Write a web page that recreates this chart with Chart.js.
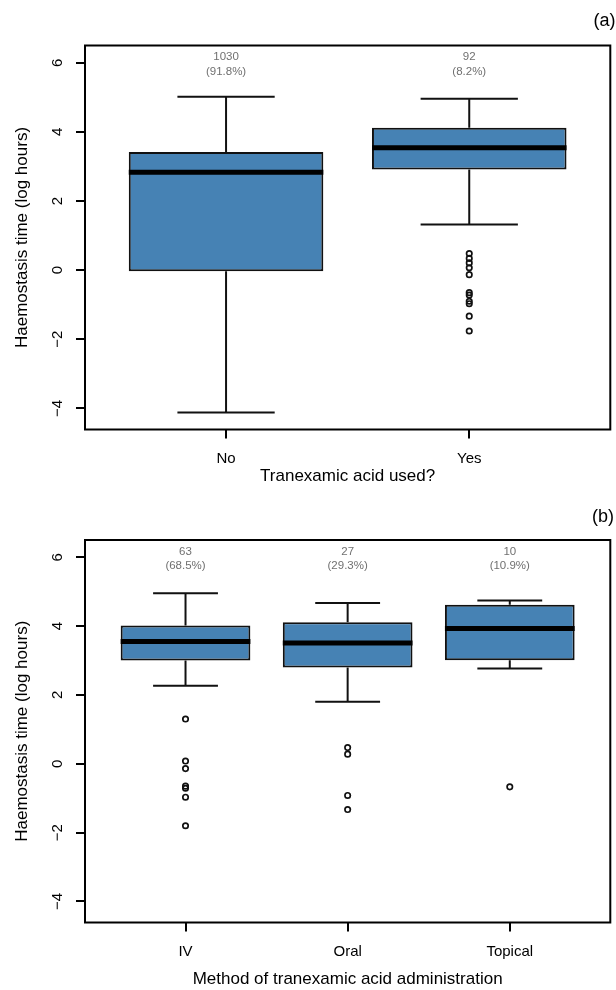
<!DOCTYPE html>
<html>
<head>
<meta charset="utf-8">
<script src="https://cdn.jsdelivr.net/npm/chart.js@4.4.1/dist/chart.umd.min.js"></script>
<style>
  body { margin: 0; background: #fff; }
  canvas { display: block; }
</style>
</head>
<body>
<canvas id="chart-a" width="616" height="495"></canvas>
<canvas id="chart-b" width="616" height="495"></canvas>
<script>
'use strict';

// ***** DATA : panel (a) *****
const catsA = ['No', 'Yes'];
const countsA = [1030, 92];
const pctA = ['91.8%', '8.2%'];
const loA = [-4.12, 1.32];
const q1A = [-0.03, 2.91];
const medA = [2.83, 3.54];
const q3A = [3.42, 4.12];
const hiA = [5.02, 4.96];
const outA = [[], [0.48, 0.34, 0.21, 0.07, -0.13, -0.65, -0.72, -0.90, -0.97, -1.33, -1.76]];

// ***** DATA : panel (b) *****
const catsB = ['IV', 'Oral', 'Topical'];
const countsB = [63, 27, 10];
const pctB = ['68.5%', '29.3%', '10.9%'];
const loB = [2.27, 1.80, 2.77];
const q1B = [3.00, 2.80, 3.01];
const medB = [3.55, 3.51, 3.93];
const q3B = [4.02, 4.11, 4.62];
const hiB = [4.95, 4.67, 4.74];
const outB = [[1.30, 0.08, -0.14, -0.65, -0.71, -0.97, -1.80], [0.47, 0.28, -0.92, -1.33], [-0.67]];

// ***** AXES *****
const yTicks = [-4, -2, 0, 2, 4, 6];
const yMin = -4.61;
const yMax = 6.5;
const yTitle = 'Haemostasis time (log hours)';

// ***** STYLE *****
const boxWidth = 0.8;
const boxColor = '#4682b4';
const lineW = 2;
const fontFamily = '"Liberation Sans", Arial, Helvetica, sans-serif';

Chart.defaults.font.family = fontFamily;
Chart.defaults.color = '#000';

// box frame round the plot area
const framePlugin = {
    id: 'frame',
    afterDatasetsDraw(chart) {
        const {ctx, chartArea: a} = chart;
        ctx.save();
        ctx.strokeStyle = '#000';
        ctx.lineWidth = lineW;
        ctx.strokeRect(a.left, a.top, a.right - a.left, a.bottom - a.top);
        ctx.restore();
    }
};

// n and % above each box
const countPlugin = {
    id: 'countLabels',
    afterDatasetsDraw(chart, args, opts) {
        const {ctx, scales: {x, y}} = chart;
        ctx.save();
        ctx.fillStyle = '#707070';
        ctx.font = '11.5px ' + fontFamily;
        ctx.textAlign = 'center';
        ctx.textBaseline = 'middle';
        opts.counts.forEach((n, i) => {
            const px = x.getPixelForValue(i + 1);
            ctx.fillText(String(n), px, y.getPixelForValue(6.17));
            ctx.fillText('(' + opts.pct[i] + ')', px, y.getPixelForValue(5.75));
        });
        ctx.restore();
    }
};

function whiskerPoints(cats, lo, q1, q3, hi) {
    let pts = [];
    let cap = boxWidth / 4;
    for (let i = 0; i < cats.length; i++) {
        let x = i + 1;
        pts.push({x: x, y: q3[i]}, {x: x, y: hi[i]}, {x: x, y: null});
        pts.push({x: x, y: q1[i]}, {x: x, y: lo[i]}, {x: x, y: null});
        pts.push({x: x - cap, y: hi[i]}, {x: x + cap, y: hi[i]}, {x: x, y: null});
        pts.push({x: x - cap, y: lo[i]}, {x: x + cap, y: lo[i]}, {x: x, y: null});
    }
    return pts;
}

function medianPoints(cats, med) {
    let pts = [];
    for (let i = 0; i < cats.length; i++) {
        pts.push({x: i + 1 - boxWidth / 2, y: med[i]}, {x: i + 1 + boxWidth / 2, y: med[i]}, {x: i + 1, y: null});
    }
    return pts;
}

function outlierPoints(out) {
    let pts = [];
    out.forEach((vals, i) => vals.forEach(v => pts.push({x: i + 1, y: v})));
    return pts;
}

function makeChart(id, p) {
    let n = p.cats.length;
    return new Chart(document.getElementById(id), {
        type: 'bar',
        data: {
            datasets: [
                {
                    type: 'bar',
                    data: p.cats.map((c, i) => ({x: i + 1, y: [p.q1[i], p.q3[i]]})),
                    backgroundColor: boxColor,
                    borderColor: '#111',
                    borderWidth: lineW,
                    borderSkipped: false,
                    barPercentage: boxWidth,
                    categoryPercentage: 1,
                    order: 1
                },
                {
                    type: 'line',
                    data: whiskerPoints(p.cats, p.lo, p.q1, p.q3, p.hi),
                    borderColor: '#111',
                    borderWidth: lineW,
                    pointRadius: 0,
                    spanGaps: false,
                    order: 2
                },
                {
                    type: 'line',
                    data: medianPoints(p.cats, p.med),
                    borderColor: '#000',
                    borderWidth: 5,
                    borderCapStyle: 'butt',
                    pointRadius: 0,
                    spanGaps: false,
                    order: 0
                },
                {
                    type: 'line',
                    data: outlierPoints(p.out),
                    showLine: false,
                    pointStyle: 'circle',
                    pointRadius: 2.7,
                    pointBorderWidth: 1.7,
                    pointBorderColor: '#111',
                    pointBackgroundColor: 'rgba(255,255,255,0)',
                    order: 0
                }
            ]
        },
        options: {
            responsive: false,
            animation: false,
            events: [],
            layout: {padding: {left: 0, right: p.padRight, top: 0, bottom: 0}},
            plugins: {
                legend: {display: false},
                tooltip: {enabled: false},
                title: {
                    display: true,
                    text: p.label,
                    align: 'end',
                    color: '#000',
                    font: {size: 18, weight: 'normal'},
                    padding: {top: p.titleTop, bottom: p.titleBottom}
                },
                countLabels: {counts: p.counts, pct: p.pct}
            },
            scales: {
                x: {
                    type: 'linear',
                    min: 0.5 - 0.04 * n,
                    max: n + 0.5 + 0.04 * n,
                    offset: false,
                    afterBuildTicks: s => { s.ticks = p.cats.map((c, i) => ({value: i + 1})); },
                    afterFit: s => { s.height = p.xHeight; },
                    ticks: {
                        callback: v => p.cats[v - 1],
                        font: {size: 15},
                        color: '#000',
                        padding: 11,
                        autoSkip: false,
                        maxRotation: 0
                    },
                    grid: {drawOnChartArea: false, drawTicks: true, tickLength: 9, color: '#000', lineWidth: lineW, offset: false},
                    border: {display: false},
                    title: {
                        display: true,
                        text: p.xTitle,
                        color: '#000',
                        font: {size: 17},
                        padding: {top: 0, bottom: p.xTitlePad}
                    }
                },
                y: {
                    type: 'linear',
                    min: yMin,
                    max: yMax,
                    beginAtZero: false,
                    afterBuildTicks: s => { s.ticks = yTicks.map(v => ({value: v})); },
                    afterFit: s => { s.width = 85; },
                    ticks: {
                        callback: v => (v < 0 ? '\u2212' + Math.abs(v) : String(v)),
                        font: {size: 15},
                        color: '#000',
                        padding: 9.5,
                        minRotation: 90,
                        maxRotation: 90,
                        crossAlign: 'center',
                        autoSkip: false
                    },
                    grid: {drawOnChartArea: false, drawTicks: true, tickLength: 9, color: '#000', lineWidth: lineW},
                    border: {display: false},
                    title: {
                        display: true,
                        text: yTitle,
                        color: '#000',
                        font: {size: 17},
                        padding: {top: 12.4, bottom: 0}
                    }
                }
            }
        },
        plugins: [framePlugin, countPlugin]
    });
}

// ***** EXECUTABLE CODE *****
makeChart('chart-a', {
    cats: catsA, counts: countsA, pct: pctA,
    lo: loA, q1: q1A, med: medA, q3: q3A, hi: hiA, out: outA,
    label: '(a)', xTitle: 'Tranexamic acid used?',
    titleTop: 10.7, titleBottom: 13.2, xHeight: 65.5, xTitlePad: 8.1, padRight: 0.5
});

makeChart('chart-b', {
    cats: catsB, counts: countsB, pct: pctB,
    lo: loB, q1: q1B, med: medB, q3: q3B, hi: hiB, out: outB,
    label: '(b)', xTitle: 'Method of tranexamic acid administration',
    titleTop: 11.2, titleBottom: 12.2, xHeight: 67.5, xTitlePad: 0, padRight: 2
});
</script>
</body>
</html>
